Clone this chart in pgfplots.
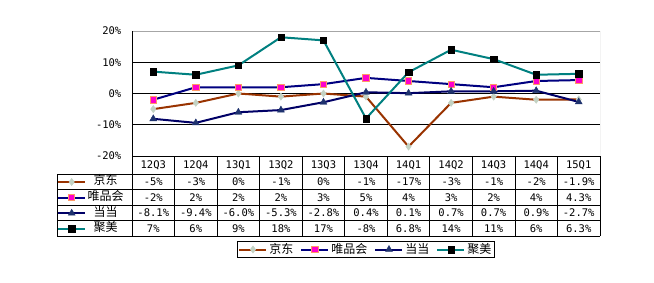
\documentclass[border=0pt]{standalone}
\usepackage{fontspec}
\setmainfont{Noto Sans CJK SC}
\newfontfamily\numfont{DejaVu Sans Mono}
\usepackage{pgfplots}
\pgfplotsset{compat=1.18}
\definecolor{jdline}{RGB}{153,51,0}
\definecolor{jdmark}{RGB}{195,210,195}
\definecolor{navyline}{RGB}{0,0,128}
\definecolor{vpmark}{RGB}{255,0,204}
\definecolor{vpborder}{RGB}{255,153,102}
\definecolor{ddline}{RGB}{0,0,102}
\definecolor{ddmark}{RGB}{30,50,110}
\definecolor{jmline}{RGB}{0,128,128}
\newcommand{\cn}{\fontsize{12bp}{13bp}\selectfont}
\newcommand{\nf}{\numfont\fontsize{10.5bp}{12bp}\selectfont}
\pgfplotsset{
  jd/.style={color=jdline, line width=2bp, mark=diamond*, mark size=3.6bp, mark options={fill=jdmark, draw=jdmark, line width=0.4bp}},
  vp/.style={color=navyline, line width=2bp, mark=square*, mark size=3.2bp, mark options={fill=vpmark, draw=vpborder, line width=0.8bp}},
  dd/.style={color=ddline, line width=2bp, mark=triangle*, mark size=4bp, mark options={fill=ddmark, draw=ddmark, line width=0.4bp}},
  jm/.style={color=jmline, line width=2bp, mark=square*, mark size=3.2bp, mark options={fill=black, draw=black, line width=0.4bp}},
  myimg/.style={legend image code/.code={\draw[mark repeat=2,mark phase=2] plot coordinates {(0bp,0bp)(13.5bp,0bp)(27bp,0bp)};}},
}
\begin{document}
\begin{tikzpicture}[x=1bp,y=1bp]
\fill[white] (0,0) rectangle (654,282);
\useasboundingbox (0,0) rectangle (654,282);
\begin{axis}[
  at={(132bp,126bp)}, anchor=south west, scale only axis,
  width=468bp, height=125bp,
  xmin=-0.5, xmax=10.5, ymin=-20, ymax=20,
  xtick=\empty,
  ytick={-20,-10,0,10,20},
  yticklabels={-20\%,-10\%,0\%,10\%,20\%},
  yticklabel style={font=\nf, inner sep=0pt, anchor=east, xshift=-10.5bp},
  major tick length=0pt,
  ymajorgrids, grid style={black, line width=0.8bp},
  axis line style={draw=none},
  myimg,
  legend columns=4,
  legend style={at={(0.4989,-0.748)}, anchor=center, draw=black, line width=0.8bp,
    inner sep=1.5bp, font=\cn, row sep=0pt,
    nodes={inner sep=1bp},
    /tikz/every even column/.append style={column sep=6bp},
    /tikz/every odd column/.append style={column sep=1bp}},
]
\draw[gray!70, line width=0.8bp] (rel axis cs:0,1) -- (rel axis cs:1,1) -- (rel axis cs:1,0);
\draw[black, line width=0.8bp] (rel axis cs:0,1) -- (rel axis cs:0,0) -- (rel axis cs:1,0);
\addplot[jd] coordinates {(0,-5)(1,-3)(2,0)(3,-1)(4,0)(5,-1)(6,-17)(7,-3)(8,-1)(9,-2)(10,-1.9)};
\addlegendentry{京东}
\addplot[vp] coordinates {(0,-2)(1,2)(2,2)(3,2)(4,3)(5,5)(6,4)(7,3)(8,2)(9,4)(10,4.3)};
\addlegendentry{唯品会}
\addplot[dd] coordinates {(0,-8.1)(1,-9.4)(2,-6.0)(3,-5.3)(4,-2.8)(5,0.4)(6,0.1)(7,0.7)(8,0.7)(9,0.9)(10,-2.7)};
\addlegendentry{当当}
\addplot[jm] coordinates {(0,7)(1,6)(2,9)(3,18)(4,17)(5,-8)(6,6.8)(7,14)(8,11)(9,6)(10,6.3)};
\addlegendentry{聚美}
\end{axis}
\begin{axis}[
  at={(132bp,126bp)}, anchor=south west, scale only axis,
  width=468bp, height=125bp, hide axis,
  xmin=0, xmax=1, ymin=0, ymax=1,
  myimg,
  legend columns=1,
  legend style={at={(-0.16026,-0.144)}, anchor=north west, draw=none, fill=none,
    inner sep=0pt, font=\cn, row sep=0pt,
    nodes={inner sep=0pt, text height=10.6bp, text depth=5bp},
    /tikz/every odd column/.append style={column sep=1.5bp}},
]
\addlegendimage{jd}\addlegendentry{京东}
\addlegendimage{vp}\addlegendentry{唯品会}
\addlegendimage{dd}\addlegendentry{当当}
\addlegendimage{jm}\addlegendentry{聚美}
\end{axis}
% data table grid
\begin{scope}[line width=0.8bp, black]
\foreach \k in {0,...,11} \draw ({132+42.545*\k},126) -- ({132+42.545*\k},45.6);
\draw (57,108) -- (57,45.6);
\foreach \yy in {108,92.4,76.8,61.2,45.6} \draw (57,\yy) -- (600,\yy);
\end{scope}
\foreach \v [count=\i from 0] in {12Q3,12Q4,13Q1,13Q2,13Q3,13Q4,14Q1,14Q2,14Q3,14Q4,15Q1}
  \node[font=\nf, inner sep=0pt] at ({132+42.545*(\i+0.5)},117) {\v};
\foreach \v [count=\i from 0] in {-5\%,-3\%,0\%,-1\%,0\%,-1\%,-17\%,-3\%,-1\%,-2\%,-1.9\%}
  \node[font=\nf, inner sep=0pt] at ({132+42.545*(\i+0.5)},100.2) {\v};
\foreach \v [count=\i from 0] in {-2\%,2\%,2\%,2\%,3\%,5\%,4\%,3\%,2\%,4\%,4.3\%}
  \node[font=\nf, inner sep=0pt] at ({132+42.545*(\i+0.5)},84.6) {\v};
\foreach \v [count=\i from 0] in {-8.1\%,-9.4\%,-6.0\%,-5.3\%,-2.8\%,0.4\%,0.1\%,0.7\%,0.7\%,0.9\%,-2.7\%}
  \node[font=\nf, inner sep=0pt] at ({132+42.545*(\i+0.5)},69) {\v};
\foreach \v [count=\i from 0] in {7\%,6\%,9\%,18\%,17\%,-8\%,6.8\%,14\%,11\%,6\%,6.3\%}
  \node[font=\nf, inner sep=0pt] at ({132+42.545*(\i+0.5)},53.4) {\v};
\end{tikzpicture}
\end{document}
